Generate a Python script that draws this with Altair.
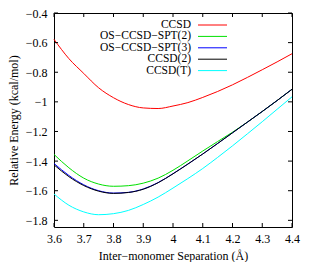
import altair as alt
import pandas as pd

# ---- data ----
sep = [3.60, 3.65, 3.70, 3.75, 3.80, 3.85, 3.90, 3.95, 4.00,
       4.05, 4.10, 4.15, 4.20, 4.25, 4.30, 4.35, 4.40]
ccsd = [-0.578, -0.708, -0.808, -0.905, -0.972, -1.018, -1.041, -1.045, -1.028,
        -1.005, -0.970, -0.930, -0.885, -0.835, -0.783, -0.730, -0.675]
spt2 = [-1.355, -1.445, -1.515, -1.555, -1.570, -1.566, -1.549, -1.515, -1.462,
        -1.398, -1.332, -1.268, -1.205, -1.137, -1.065, -0.991, -0.915]
spt3 = [-1.416, -1.497, -1.560, -1.600, -1.616, -1.611, -1.588, -1.545, -1.485,
        -1.420, -1.352, -1.281, -1.209, -1.137, -1.065, -0.991, -0.915]
ccsd2 = [-1.425, -1.505, -1.565, -1.603, -1.618, -1.612, -1.590, -1.546, -1.486,
         -1.420, -1.352, -1.281, -1.209, -1.137, -1.065, -0.991, -0.915]
ccsdt = [-1.622, -1.698, -1.743, -1.762, -1.755, -1.733, -1.693, -1.643, -1.582,
         -1.518, -1.450, -1.375, -1.297, -1.216, -1.134, -1.050, -0.966]

series_names = ["CCSD", "OS−CCSD−SPT(2)", "OS−CCSD−SPT(3)", "CCSD(2)", "CCSD(T)"]
series_colors = ["#ff0000", "#00e000", "#0000ff", "#000000", "#00ffff"]
x_ticks = [3.6, 3.7, 3.8, 3.9, 4.0, 4.1, 4.2, 4.3, 4.4]
y_ticks = [-1.8, -1.6, -1.4, -1.2, -1.0, -0.8, -0.6, -0.4]

W, H = 238, 214
FONT = "Liberation Serif"

rows = []
for name, vals in zip(series_names, [ccsd, spt2, spt3, ccsd2, ccsdt]):
    for xv, yv in zip(sep, vals):
        rows.append({"series": name, "sep": xv, "energy": yv})
df = pd.DataFrame(rows)

xscale = alt.Scale(domain=[3.6, 4.4], nice=False, zero=False)
yscale = alt.Scale(domain=[-1.845, -0.4], nice=False, zero=False)

xaxis = alt.Axis(title="Inter−monomer Separation (Å)", values=x_ticks,
                 format="~g", grid=False, domain=False, tickSize=0,
                 labelOverlap=False, labelFlush=False,
                 labelPadding=6, labelFont=FONT, labelFontSize=12,
                 labelColor="black", titleFont=FONT, titleFontSize=12,
                 titleFontWeight="normal", titleColor="black",
                 titleY=28, titleBaseline="middle")
yaxis = alt.Axis(title="Relative Energy (kcal/mol)", values=y_ticks,
                 format="~g", grid=False, domain=False, tickSize=0,
                 labelOverlap=False, labelFlush=False,
                 labelPadding=7, labelFont=FONT, labelFontSize=12,
                 labelColor="black", titleFont=FONT, titleFontSize=12,
                 titleFontWeight="normal", titleColor="black",
                 titleX=-41, titleY=H / 2, titleBaseline="middle")

lines = alt.Chart(df).mark_line(strokeWidth=1, interpolate="monotone").encode(
    x=alt.X("sep:Q", scale=xscale, axis=xaxis),
    y=alt.Y("energy:Q", scale=yscale, axis=yaxis),
    color=alt.Color("series:N", scale=alt.Scale(domain=series_names, range=series_colors),
                    legend=None),
    order=alt.Order("sep:Q"),
)

ydf = pd.DataFrame({"t": y_ticks})
xdf = pd.DataFrame({"t": x_ticks})
TL = 4
ticks = [
    alt.Chart(ydf).mark_rule(color="black", strokeWidth=1).encode(
        y=alt.Y("t:Q", scale=yscale, axis=yaxis), x=alt.value(0), x2=alt.value(TL)),
    alt.Chart(ydf).mark_rule(color="black", strokeWidth=1).encode(
        y=alt.Y("t:Q", scale=yscale, axis=yaxis), x=alt.value(W - TL), x2=alt.value(W)),
    alt.Chart(xdf).mark_rule(color="black", strokeWidth=1).encode(
        x=alt.X("t:Q", scale=xscale, axis=xaxis), y=alt.value(H - TL), y2=alt.value(H)),
    alt.Chart(xdf).mark_rule(color="black", strokeWidth=1).encode(
        x=alt.X("t:Q", scale=xscale, axis=xaxis), y=alt.value(0), y2=alt.value(TL)),
]

legend_layers = []
for i, (name, col) in enumerate(zip(series_names, series_colors)):
    ldf = pd.DataFrame({"series": [name]})
    yy = 12 + 11.4 * i
    legend_layers.append(
        alt.Chart(ldf).mark_text(align="right", baseline="middle", font=FONT,
                                 fontSize=11.5, color="black").encode(
            text="series:N", x=alt.value(137), y=alt.value(yy)))
    legend_layers.append(
        alt.Chart(ldf).mark_rule(color=col, strokeWidth=1).encode(
            x=alt.value(144), x2=alt.value(173), y=alt.value(yy)))

chart = alt.layer(lines, *ticks, *legend_layers).properties(
    width=W, height=H,
    autosize=alt.AutoSizeParams(type="none"),
    padding={"left": 46, "top": 5, "right": 12, "bottom": 35},
    background="white",
).configure_view(stroke="black", strokeWidth=1)

chart.save("out.html", embed_options={"renderer": "svg", "actions": False})
